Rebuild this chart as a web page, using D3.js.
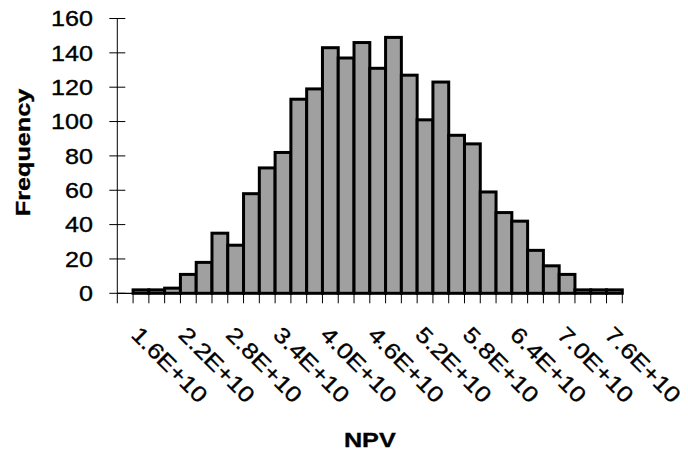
<!DOCTYPE html>
<html>
<head>
<meta charset="utf-8">
<script src="https://cdn.jsdelivr.net/npm/d3@7"></script>
<style>
  html, body { margin: 0; padding: 0; background: #fff; }
  svg { display: block; }
  text { font-family: "Liberation Sans", Arial, sans-serif; fill: #000; stroke: #000; stroke-width: 0.35px; }
</style>
</head>
<body>
<svg id="chart" width="688" height="454"></svg>
<script>
// ---- data ----
const categories = ["1.4E+10","1.6E+10","1.8E+10","2.0E+10","2.2E+10","2.4E+10","2.6E+10","2.8E+10",
  "3.0E+10","3.2E+10","3.4E+10","3.6E+10","3.8E+10","4.0E+10","4.2E+10","4.4E+10","4.6E+10",
  "4.8E+10","5.0E+10","5.2E+10","5.4E+10","5.6E+10","5.8E+10","6.0E+10","6.2E+10","6.4E+10",
  "6.6E+10","6.8E+10","7.0E+10","7.2E+10","7.4E+10","7.6E+10"];
const frequency = [0, 2, 2, 3, 11, 18, 35, 28, 58, 73, 82, 113, 119, 143, 137, 146, 131,
  149, 127, 101, 123, 92, 87, 59, 47, 42, 25, 16, 11, 2, 2, 2];
const xTickLabels = ["1.6E+10","2.2E+10","2.8E+10","3.4E+10","4.0E+10","4.6E+10",
  "5.2E+10","5.8E+10","6.4E+10","7.0E+10","7.6E+10"];
const yTicks = [0, 20, 40, 60, 80, 100, 120, 140, 160];
const xTitle = "NPV";
const yTitle = "Frequency";

// ---- layout ----
const svg = d3.select("#chart");
const x = d3.scaleBand().domain(categories).range([117.3, 622.3]).padding(0);
const y = d3.scaleLinear().domain([0, 160]).range([293.3, 18.5]);
const xStretch = 1.17;

// bars
svg.append("g").selectAll("rect")
  .data(categories.map((c, i) => ({c, v: frequency[i]})))
  .join("rect")
  .attr("x", d => x(d.c))
  .attr("y", d => y(d.v))
  .attr("width", x.bandwidth())
  .attr("height", d => y(0) - y(d.v))
  .attr("fill", "#a0a0a0")
  .attr("stroke", d => d.v > 0 ? "#000" : "none")
  .attr("stroke-width", 3);

// x axis line and ticks (between categories)
const xr = x.range();
svg.append("line")
  .attr("x1", xr[0]).attr("x2", xr[1])
  .attr("y1", y(0)).attr("y2", y(0))
  .attr("stroke", "#000").attr("stroke-width", 1.3);
const boundaries = categories.map(c => x(c)).concat([xr[1]]);
svg.append("g").selectAll("line").data(boundaries).join("line")
  .attr("x1", d => d).attr("x2", d => d)
  .attr("y1", y(0)).attr("y2", y(0) + 10)
  .attr("stroke", "#000").attr("stroke-width", 1);

// y axis line and crossing ticks
svg.append("line")
  .attr("x1", xr[0]).attr("x2", xr[0])
  .attr("y1", y(160)).attr("y2", y(0))
  .attr("stroke", "#000").attr("stroke-width", 1);
svg.append("g").selectAll("line").data(yTicks).join("line")
  .attr("x1", xr[0] - 8).attr("x2", xr[0] + 8)
  .attr("y1", d => y(d)).attr("y2", d => y(d))
  .attr("stroke", "#000").attr("stroke-width", 1);

// y tick labels
svg.append("g").selectAll("text").data(yTicks).join("text")
  .attr("transform", d => `translate(93,${y(d)}) scale(${xStretch},1)`)
  .attr("text-anchor", "end")
  .attr("dy", "0.36em")
  .style("font-size", "21.5px")
  .text(d => d);

// x tick labels (rotated 45deg)
svg.append("g").selectAll("text").data(xTickLabels).join("text")
  .attr("transform", d => `translate(${x(d) + x.bandwidth() / 2 - 11},336) rotate(45) scale(${xStretch},1)`)
  .attr("text-anchor", "start")
  .style("font-size", "22px")
  .text(d => d);

// axis titles
svg.append("text")
  .attr("transform", `translate(${(xr[0] + xr[1]) / 2},446.5) scale(1.2,1)`)
  .attr("text-anchor", "middle")
  .style("font-size", "21px").style("font-weight", "bold")
  .text(xTitle);
svg.append("text")
  .attr("transform", `translate(30,152.5) rotate(-90) scale(1.2,1)`)
  .attr("text-anchor", "middle")
  .style("font-size", "21px").style("font-weight", "bold")
  .text(yTitle);
</script>
</body>
</html>
